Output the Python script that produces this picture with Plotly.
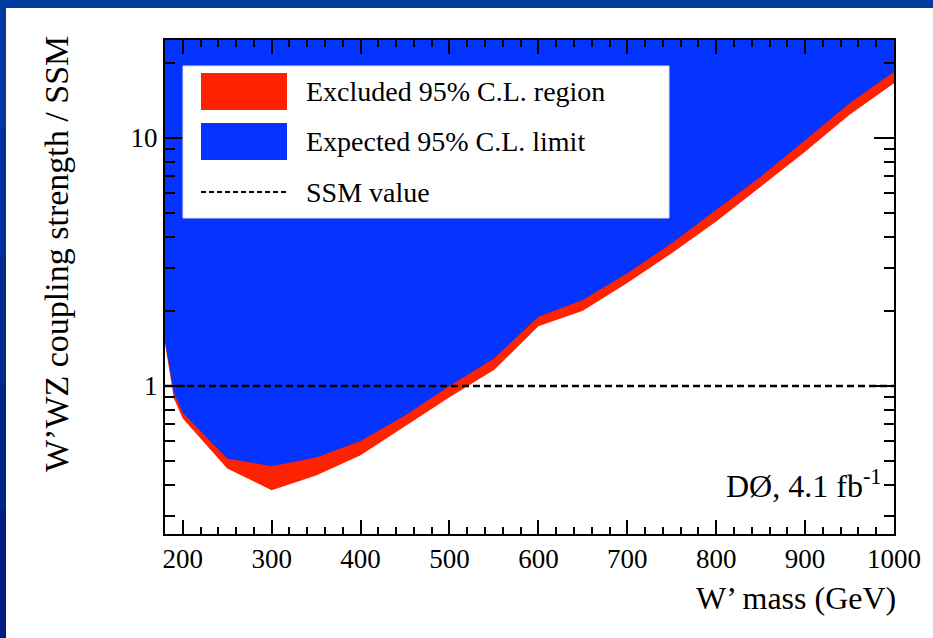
import plotly.graph_objects as go

# ---- data ----
mass = [180, 190, 200, 250, 300, 350, 400, 450, 500, 550, 600, 650, 700, 750, 800, 850, 900, 950, 1000]
expected = [1.52, 0.94, 0.78, 0.51, 0.475, 0.515, 0.60, 0.76, 1.00, 1.29, 1.90, 2.22, 2.85, 3.76, 5.13, 6.98, 9.8, 13.8, 18.5]
observed = [1.48, 0.89, 0.74, 0.465, 0.38, 0.435, 0.525, 0.69, 0.90, 1.16, 1.74, 2.01, 2.60, 3.43, 4.60, 6.36, 8.8, 12.4, 16.6]
ssm_value = 1.0
fill_top = 100.0  # beyond the visible y range

x_major = [200, 300, 400, 500, 600, 700, 800, 900, 1000]
x_minor = [v for v in range(180, 1001, 20) if v % 100 != 0]
y_major = [1, 10]
y_minor = [0.3, 0.4, 0.5, 0.6, 0.7, 0.8, 0.9, 2, 3, 4, 5, 6, 7, 8, 9, 20]

legend_labels = ["Excluded 95% C.L. region", "Expected 95% C.L. limit", "SSM value"]

RED = "#ff2200"
BLUE = "#0433ff"
FONT = "Liberation Serif"

fig = go.Figure()

# red excluded region (above the observed limit)
fig.add_trace(go.Scatter(
    x=mass + mass[::-1], y=observed + [fill_top] * len(mass),
    fill="toself", fillcolor=RED, line=dict(width=0), mode="lines",
    hoverinfo="skip", showlegend=False))
# blue expected region (above the expected limit)
fig.add_trace(go.Scatter(
    x=mass + mass[::-1], y=expected + [fill_top] * len(mass),
    fill="toself", fillcolor=BLUE, line=dict(width=0), mode="lines",
    hoverinfo="skip", showlegend=False))
# SSM value line
fig.add_trace(go.Scatter(
    x=[mass[0], mass[-1]], y=[ssm_value, ssm_value], mode="lines",
    line=dict(color="black", width=2.5, dash="7px,4px"),
    hoverinfo="skip", showlegend=False))

L, R, T, B = 165, 39, 40, 104
W, H = 933, 638
pw, ph = W - L - R, H - T - B


def px(xp):
    return (xp - L) / pw


def py(yp):
    return (H - B - yp) / ph


shapes = []
# blue presentation frame (top and left bars)
shapes.append(dict(type="rect", xref="paper", yref="paper", x0=px(0), x1=px(W), y0=py(8), y1=py(0),
                   fillcolor="#003a9f", line=dict(width=0), layer="above"))
left_cols = ["#003a9f", "#00339a", "#022b92", "#02248a", "#021d82"]
seg = H / len(left_cols)
for i, c in enumerate(left_cols):
    shapes.append(dict(type="rect", xref="paper", yref="paper", x0=px(0), x1=px(6),
                       y0=py(min(H, (i + 1) * seg + 1)), y1=py(i * seg),
                       fillcolor=c, line=dict(width=0), layer="above"))
# legend box
shapes.append(dict(type="rect", xref="paper", yref="paper", x0=px(183), x1=px(669), y0=py(218), y1=py(66),
                   fillcolor="white", line=dict(color="#e0e0ee", width=1), layer="above"))
shapes.append(dict(type="rect", xref="paper", yref="paper", x0=px(201), x1=px(287), y0=py(110), y1=py(73),
                   fillcolor=RED, line=dict(width=0), layer="above"))
shapes.append(dict(type="rect", xref="paper", yref="paper", x0=px(201), x1=px(287), y0=py(160), y1=py(123),
                   fillcolor=BLUE, line=dict(width=0), layer="above"))
shapes.append(dict(type="line", xref="paper", yref="paper", x0=px(201), x1=px(287), y0=py(192), y1=py(192),
                   line=dict(color="black", width=2, dash="5px,3px"), layer="above"))

annotations = []
for lab, yc in zip(legend_labels, [91, 141, 192]):
    annotations.append(dict(text=lab, xref="paper", yref="paper", x=px(304), y=py(yc),
                            xanchor="left", yanchor="middle", showarrow=False,
                            font=dict(family=FONT, size=28, color="black")))
annotations.append(dict(text="DØ, 4.1 fb<sup>-1</sup>", xref="paper", yref="paper",
                        x=px(884), y=py(484), xanchor="right", yanchor="middle", showarrow=False,
                        font=dict(family=FONT, size=32, color="black")))
annotations.append(dict(text="W’ mass (GeV)", xref="paper", yref="paper",
                        x=px(898), y=py(598), xanchor="right", yanchor="middle", showarrow=False,
                        font=dict(family=FONT, size=32, color="black")))
annotations.append(dict(text="W’WZ coupling strength / SSM", xref="paper", yref="paper",
                        x=px(56), y=py(34), xanchor="center", yanchor="top", showarrow=False,
                        textangle=-90, font=dict(family=FONT, size=34, color="black")))

fig.update_layout(
    width=W, height=H,
    margin=dict(l=L, r=R, t=T, b=B, pad=0),
    paper_bgcolor="white", plot_bgcolor="white",
    showlegend=False,
    shapes=shapes, annotations=annotations,
    xaxis=dict(range=[180, 1000], tickmode="array", tickvals=x_major,
               ticktext=[str(v) for v in x_major],
               ticks="inside", ticklen=14, tickwidth=2, tickcolor="black",
               minor=dict(tickmode="array", tickvals=x_minor, ticks="inside", ticklen=7,
                          tickwidth=2, tickcolor="black", showgrid=False),
               showline=True, linecolor="black", linewidth=2, mirror="ticks",
               showgrid=False, zeroline=False,
               tickfont=dict(family=FONT, size=27, color="black")),
    yaxis=dict(type="log", range=[-0.597, 1.395], tickmode="array", tickvals=y_major,
               ticktext=[str(v) for v in y_major],
               ticks="inside", ticklen=20, tickwidth=2, tickcolor="black",
               minor=dict(tickmode="array", tickvals=y_minor, ticks="inside", ticklen=10,
                          tickwidth=2, tickcolor="black", showgrid=False),
               showline=True, linecolor="black", linewidth=2, mirror="ticks",
               showgrid=False, zeroline=False,
               tickfont=dict(family=FONT, size=27, color="black")),
)

fig.write_html("out.html")
